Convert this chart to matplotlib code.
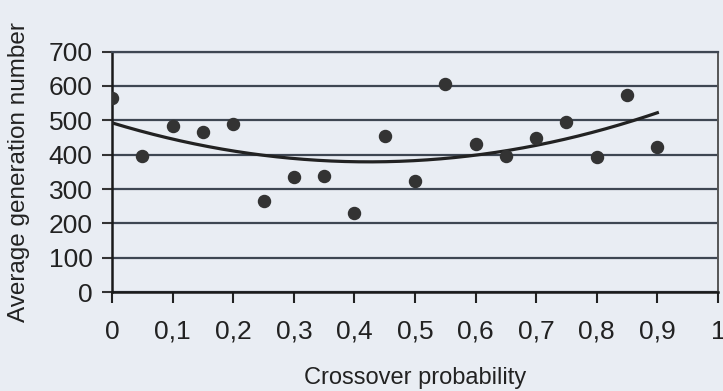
import numpy as np
import matplotlib.pyplot as plt

plt.rcParams['font.family'] = ['Liberation Sans', 'DejaVu Sans']

# data
crossover = [0, 0.05, 0.1, 0.15, 0.2, 0.25, 0.3, 0.35, 0.4, 0.45,
             0.5, 0.55, 0.6, 0.65, 0.7, 0.75, 0.8, 0.85, 0.9]
avg_gen = [565, 395, 483, 465, 490, 266, 334, 338, 230, 453,
           323, 607, 432, 397, 449, 495, 392, 574, 422]
xticks = [0, 0.1, 0.2, 0.3, 0.4, 0.5, 0.6, 0.7, 0.8, 0.9, 1]
xtick_labels = ['0', '0,1', '0,2', '0,3', '0,4', '0,5', '0,6', '0,7', '0,8', '0,9', '1']
yticks = [0, 100, 200, 300, 400, 500, 600, 700]

bg = '#e9edf3'
fig = plt.figure(figsize=(7.23, 3.91), dpi=100, facecolor=bg)
ax = fig.add_axes([0.155, 0.253, 0.838, 0.615])
ax.set_facecolor(bg)

# polynomial trend line (order 2), like the spreadsheet one
coef = np.polyfit(crossover, avg_gen, 2)
xs = np.linspace(0, 0.9, 200)
ax.plot(xs, np.polyval(coef, xs), color='#222222', lw=2.3, zorder=3)

ax.scatter(crossover, avg_gen, s=75, color='#333333', zorder=4)

ax.set_xlim(0, 1)
ax.set_ylim(0, 700)
ax.set_xticks(xticks)
ax.set_xticklabels(xtick_labels)
ax.set_yticks(yticks)
ax.yaxis.grid(True, color='#3e4652', lw=1.6)
ax.set_axisbelow(True)

for side in ['left', 'bottom']:
    ax.spines[side].set_color('#1a1a1a')
    ax.spines[side].set_linewidth(1.8)
ax.spines['right'].set_color('#555555')
ax.spines['right'].set_linewidth(1.4)
ax.spines['top'].set_color('#3e4652')
ax.spines['top'].set_linewidth(1.6)

ax.tick_params(axis='x', direction='out', length=8, width=1.5, pad=12,
               labelsize=19, color='#222222', labelcolor='#222222')
ax.tick_params(axis='y', direction='out', length=7, width=1.5, pad=7,
               labelsize=19, color='#333333', labelcolor='#222222')

ax.set_xlabel('Crossover probability', fontsize=17, color='#222222', labelpad=17)
ax.set_ylabel('Average generation number', fontsize=17.5, color='#222222')
ax.yaxis.set_label_coords(-0.135, 0.5)

plt.savefig('out.png', dpi=100, facecolor=bg)
